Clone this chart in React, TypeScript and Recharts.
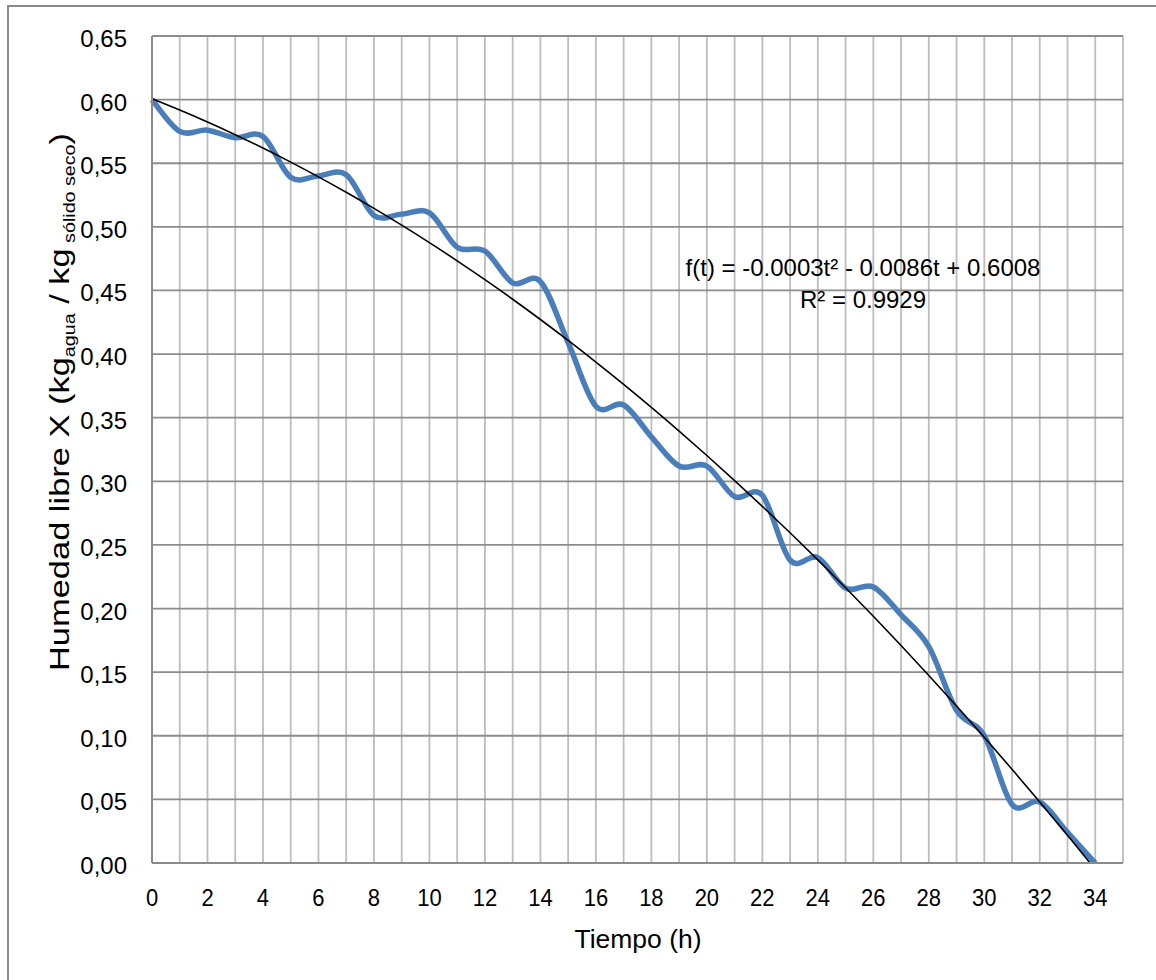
import React from 'react';
import { LineChart, Line, XAxis, YAxis, CartesianGrid, Customized } from 'recharts';

// secado: humedad libre medida cada hora
const hours = [0, 1, 2, 3, 4, 5, 6, 7, 8, 9, 10, 11, 12, 13, 14, 15, 16, 17, 18, 19, 20, 21, 22, 23, 24, 25, 26, 27, 28, 29, 30, 31, 32, 33, 34];
const moisture = [
  0.6, 0.575, 0.576, 0.57, 0.571, 0.539, 0.54, 0.541, 0.509, 0.51, 0.511, 0.484, 0.481, 0.456, 0.457, 0.409, 0.359, 0.36,
  0.335, 0.312, 0.312, 0.288, 0.289, 0.238, 0.24, 0.216, 0.217, 0.195, 0.17, 0.12, 0.1, 0.046, 0.048, 0.024, 0.0,
];
const xTicks = [0, 1, 2, 3, 4, 5, 6, 7, 8, 9, 10, 11, 12, 13, 14, 15, 16, 17, 18, 19, 20, 21, 22, 23, 24, 25, 26, 27, 28, 29, 30, 31, 32, 33, 34, 35];
const yTicks = [0, 0.05, 0.1, 0.15, 0.2, 0.25, 0.3, 0.35, 0.4, 0.45, 0.5, 0.55, 0.6, 0.65];
const trendText = 'f(t) = -0.0003t² - 0.0086t + 0.6008';
const r2Text = 'R² = 0.9929';

const FONT = '"Liberation Sans", Arial, sans-serif';

// tendencia polinómica de orden 2 (mínimos cuadrados), como la de Excel
const fitQuadratic = (xs: number[], ys: number[]) => {
  const s = [0, 0, 0, 0, 0];
  const t = [0, 0, 0];
  xs.forEach((x, i) => {
    for (let k = 0; k < 5; k++) s[k] += Math.pow(x, k);
    for (let k = 0; k < 3; k++) t[k] += Math.pow(x, k) * ys[i];
  });
  const det = (m: number[][]) =>
    m[0][0] * (m[1][1] * m[2][2] - m[1][2] * m[2][1]) -
    m[0][1] * (m[1][0] * m[2][2] - m[1][2] * m[2][0]) +
    m[0][2] * (m[1][0] * m[2][1] - m[1][1] * m[2][0]);
  const A = [
    [s[0], s[1], s[2]],
    [s[1], s[2], s[3]],
    [s[2], s[3], s[4]],
  ];
  const d = det(A);
  return [0, 1, 2].map((c) => det(A.map((row, r) => row.map((v, j) => (j === c ? t[r] : v)))) / d);
};

const coef = fitQuadratic(hours, moisture);

const data = hours.map((h, i) => ({
  h,
  x: moisture[i],
  fit: coef[0] + coef[1] * h + coef[2] * h * h,
}));

// curva suavizada tipo Excel (Catmull-Rom)
const excelSmooth = (context: any) => {
  let pts: number[][] = [];
  return {
    areaStart() {},
    areaEnd() {},
    lineStart() {
      pts = [];
    },
    point(x: number, y: number) {
      pts.push([x, y]);
    },
    lineEnd() {
      const n = pts.length;
      if (!n) return;
      context.moveTo(pts[0][0], pts[0][1]);
      for (let i = 0; i < n - 1; i++) {
        const p0 = pts[Math.max(i - 1, 0)];
        const p1 = pts[i];
        const p2 = pts[i + 1];
        const p3 = pts[Math.min(i + 2, n - 1)];
        context.bezierCurveTo(
          p1[0] + (p2[0] - p0[0]) / 6,
          p1[1] + (p2[1] - p0[1]) / 6,
          p2[0] - (p3[0] - p1[0]) / 6,
          p2[1] - (p3[1] - p1[1]) / 6,
          p2[0],
          p2[1]
        );
      }
    },
  };
};

const YTick = (props: any) => {
  const { x, y, payload } = props;
  return (
    <text x={x} y={y + 11} textAnchor="end" fontFamily={FONT} fontSize={24} fill="#000">
      {payload.value.toFixed(2).replace('.', ',')}
    </text>
  );
};

const XTick = (props: any) => {
  const { x, y, payload } = props;
  if (payload.value % 2 !== 0 || payload.value > 34) return null;
  return (
    <text
      transform={`translate(${x}, ${y + 43}) scale(1, 1.08)`}
      textAnchor="middle"
      fontFamily={FONT}
      fontSize={22}
      fill="#000"
    >
      {payload.value}
    </text>
  );
};

const Annotations = () => (
  <g fontFamily={FONT} fill="#000">
    <text x={863} y={276} textAnchor="middle" fontSize={24}>
      {trendText}
    </text>
    <text x={863} y={308} textAnchor="middle" fontSize={24}>
      {r2Text}
    </text>
    <text x={638} y={948} textAnchor="middle" fontSize={26.5}>
      Tiempo (h)
    </text>
    <text transform="translate(69, 671) rotate(-90) scale(1.23, 1)" fontSize={28}>
      Humedad libre X (kg
      <tspan fontSize={16} dy={6}>agua</tspan>
      <tspan dy={-6}> / kg</tspan>
      <tspan fontSize={16} dy={6}> sólido seco</tspan>
      <tspan dy={-6}>)</tspan>
    </text>
  </g>
);

export default function App() {
  return (
    <div style={{ position: 'absolute', left: 0, top: 0, width: 1156, height: 980, background: '#fff' }}>
      <div
        style={{
          position: 'absolute',
          left: 7,
          top: 5,
          width: 1160,
          height: 990,
          borderLeft: '2px solid #8a8a8a',
          borderTop: '2px solid #8a8a8a',
        }}
      />
      <div style={{ position: 'absolute', left: 0, top: 0 }}>
        <LineChart width={1156} height={980} data={data} margin={{ top: 36, right: 33, bottom: 0, left: 0 }}>
          <CartesianGrid horizontal={false} stroke="#bdbdbd" strokeWidth={1.8} />
          <CartesianGrid vertical={false} stroke="#8c8c8c" strokeWidth={1.8} />
          <XAxis
            dataKey="h"
            type="number"
            domain={[0, 35]}
            ticks={xTicks}
            interval={0}
            height={117}
            tickLine={false}
            tickSize={0}
            tickMargin={0}
            axisLine={{ stroke: '#8a8a8a', strokeWidth: 2 }}
            tick={<XTick />}
          />
          <YAxis
            type="number"
            domain={[0, 0.65]}
            ticks={yTicks}
            interval={0}
            allowDataOverflow
            width={152}
            tickLine={false}
            tickSize={0}
            tickMargin={25}
            axisLine={{ stroke: '#8a8a8a', strokeWidth: 2 }}
            tick={<YTick />}
          />
          <Line
            dataKey="x"
            type={excelSmooth as any}
            stroke="#4a7ebb"
            strokeWidth={5.5}
            dot={false}
            activeDot={false}
            isAnimationActive={false}
          />
          <Line
            dataKey="fit"
            type="monotone"
            stroke="#000"
            strokeWidth={1.6}
            dot={false}
            activeDot={false}
            isAnimationActive={false}
          />
          <Customized component={Annotations} />
        </LineChart>
      </div>
    </div>
  );
}
